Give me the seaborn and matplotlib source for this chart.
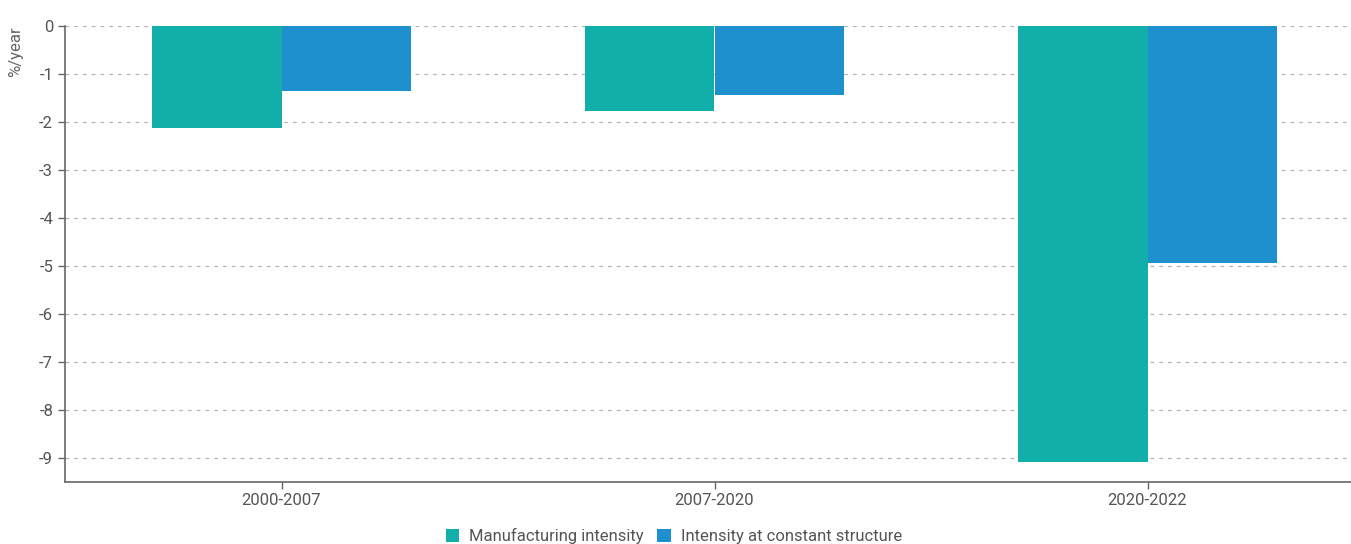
import matplotlib
matplotlib.use("Agg")
import matplotlib.pyplot as plt
import seaborn as sns
import pandas as pd

periods = ["2000-2007", "2007-2020", "2020-2022"]
manufacturing_intensity = [-2.13, -1.78, -9.08]
constant_structure = [-1.35, -1.44, -4.94]
series_names = ["Manufacturing intensity", "Intensity at constant structure"]
colors = ["#12AEA9", "#1E90CE"]

df = pd.DataFrame({
    "period": periods * 2,
    "value": manufacturing_intensity + constant_structure,
    "series": [series_names[0]] * 3 + [series_names[1]] * 3,
})

sns.set_style("white")
plt.rcParams["font.family"] = ["Roboto", "DejaVu Sans"]

fig = plt.figure(figsize=(13.51, 5.44), dpi=100)
ax = fig.add_axes([65 / 1351, 62 / 544, 1299 / 1351, (482 - 26) / 544])

sns.barplot(data=df, x="period", y="value", hue="series", palette=colors,
            width=0.6, ax=ax, saturation=1, legend=True, linewidth=0)

ax.set_ylim(-9.5, 0)
ax.set_xlim(-0.5, 2.5)
ax.set_yticks(range(0, -10, -1))
ax.set_yticklabels([str(v) for v in range(0, -10, -1)])
ax.grid(axis="y", linestyle=(0, (3, 4)), color="#b5b5b5", linewidth=0.9)
ax.set_axisbelow(True)
for s in ["top", "right"]:
    ax.spines[s].set_visible(False)
for s in ["left", "bottom"]:
    ax.spines[s].set_color("#666666")
    ax.spines[s].set_linewidth(1.2)
ax.tick_params(axis="both", colors="#666666", labelcolor="#555555", labelsize=12,
               length=5, width=1, direction="out", bottom=True, left=True)
ax.tick_params(axis="x", pad=3)
ax.set_xlabel("")
ax.set_ylabel("%/year", color="#666666", fontsize=12, loc="top")
ax.yaxis.set_label_coords(-0.032, 1.0)

handles, labels = ax.get_legend_handles_labels()
ax.legend_.remove()
fig.legend(handles, labels, loc="center", bbox_to_anchor=(674 / 1351, 1 - 536 / 544),
           ncol=2, frameon=False, fontsize=12, handlelength=0.8, handleheight=0.8,
           handletextpad=0.6, columnspacing=0.8, labelcolor="#555555")

fig.savefig("out.png", dpi=100)
